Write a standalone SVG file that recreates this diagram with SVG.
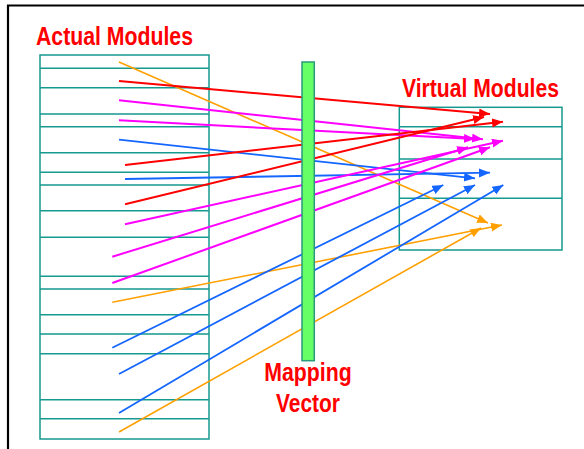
<svg xmlns="http://www.w3.org/2000/svg" width="584" height="449" viewBox="0 0 584 449">
<style>
.title{font-family:"Liberation Sans",Arial,sans-serif;font-weight:bold;font-size:25px;fill:#ff0000}
.box{fill:none;stroke:#16998f;stroke-width:1.5}
.sep{stroke:#16998f;stroke-width:1.5}
.red{stroke:#ff0000;stroke-width:2;fill:none;marker-end:url(#aRed)}
.mag{stroke:#ff00ff;stroke-width:2;fill:none;marker-end:url(#aMag)}
.blu{stroke:#1466ff;stroke-width:1.8;fill:none;marker-end:url(#aBlu)}
.org{stroke:#ffa000;stroke-width:1.6;fill:none;marker-end:url(#aOrg)}
</style>
<defs>
<marker id="aRed" markerUnits="userSpaceOnUse" markerWidth="12" markerHeight="10" refX="11" refY="4.5" orient="auto"><path d="M0,0 L11,4.5 L0,9 Z" fill="#ff0000"/></marker>
<marker id="aMag" markerUnits="userSpaceOnUse" markerWidth="12" markerHeight="10" refX="11" refY="4.5" orient="auto"><path d="M0,0 L11,4.5 L0,9 Z" fill="#ff00ff"/></marker>
<marker id="aBlu" markerUnits="userSpaceOnUse" markerWidth="12" markerHeight="10" refX="11" refY="4.5" orient="auto"><path d="M0,0 L11,4.5 L0,9 Z" fill="#1466ff"/></marker>
<marker id="aOrg" markerUnits="userSpaceOnUse" markerWidth="12" markerHeight="10" refX="11" refY="4.5" orient="auto"><path d="M0,0 L11,4.5 L0,9 Z" fill="#ffa000"/></marker>
</defs>
<rect x="0" y="0" width="584" height="449" fill="#ffffff"/>
<path d="M8,452 V5.5 H590" fill="none" stroke="#000000" stroke-width="2.2"/>

<g id="actual-modules">
<text class="title" transform="translate(36,45) scale(0.85,1)" x="0" y="0" textLength="184.7" lengthAdjust="spacingAndGlyphs">Actual Modules</text>
<rect class="box" x="40" y="55" width="169" height="384"/>
<path class="sep" d="M40,68.3H209M40,87.7H209M40,114H209M40,126.7H209M40,152.7H209M40,172.3H209M40,185H209M40,210.7H209M40,237.3H209M40,276.3H209M40,289H209M40,314.7H209M40,334H209M40,353.7H209M40,399.7H209M40,418.7H209"/>
</g>

<g id="virtual-modules">
<text class="title" transform="translate(402,97) scale(0.85,1)" x="0" y="0" textLength="184.7" lengthAdjust="spacingAndGlyphs">Virtual Modules</text>
<rect class="box" x="399.3" y="107.3" width="162.7" height="142.7"/>
<path class="sep" d="M399.3,126.7H562M399.3,159H562M399.3,198.3H562"/>
</g>

<g id="connectors">
<line class="org" x1="119" y1="62" x2="488" y2="223"/>
<line class="red" x1="119" y1="81" x2="490" y2="114"/>
<line class="mag" x1="119" y1="100.3" x2="483" y2="139.3"/>
<line class="mag" x1="119" y1="120.3" x2="475" y2="139"/>
<line class="blu" x1="119" y1="139.7" x2="475" y2="178.3"/>
<line class="red" x1="125" y1="165" x2="503" y2="121.7"/>
<line class="blu" x1="125" y1="179" x2="490" y2="172.7"/>
<line class="red" x1="125" y1="204.3" x2="484" y2="117"/>
<line class="mag" x1="125" y1="224.3" x2="503" y2="140.7"/>
<line class="mag" x1="112.3" y1="256.7" x2="468" y2="147.3"/>
<line class="mag" x1="112.3" y1="283" x2="490" y2="147.3"/>
<line class="org" x1="112.3" y1="302.3" x2="502" y2="225"/>
<line class="blu" x1="112.3" y1="347.7" x2="443.3" y2="185"/>
<line class="blu" x1="119" y1="374" x2="475" y2="185"/>
<line class="blu" x1="119" y1="413" x2="503.3" y2="185"/>
<line class="org" x1="119" y1="432" x2="481" y2="228"/>
</g>

<g id="mapping-vector">
<rect x="302" y="62" width="12.3" height="298.7" fill="#66ff66" stroke="#2a9a7c" stroke-width="1.5"/>
<text class="title" transform="translate(264.3,380.7) scale(0.85,1)" x="0" y="0" textLength="102.8" lengthAdjust="spacingAndGlyphs">Mapping</text>
<text class="title" transform="translate(276,411.7) scale(0.82,1)" x="0" y="0" textLength="78" lengthAdjust="spacingAndGlyphs">Vector</text>
</g>
</svg>
